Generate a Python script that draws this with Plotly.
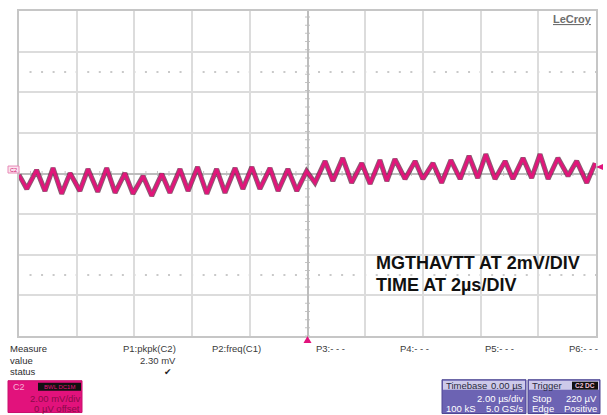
import plotly.graph_objects as go

# C2 waveform turning points: time in microseconds, amplitude in millivolts
time_us = [-10.0, -9.73, -9.39, -9.10, -8.82, -8.52, -8.23, -7.89, -7.61, -7.27,
           -6.96, -6.67, -6.33, -6.05, -5.70, -5.40, -5.05, -4.77, -4.42, -4.14,
           -3.81, -3.49, -3.15, -2.86, -2.51, -2.24, -1.93, -1.65, -1.30, -1.02,
           -0.68, -0.37, -0.03, 0.26, 0.61, 0.88, 1.22, 1.53, 1.88, 2.17,
           2.51, 2.75, 3.03, 3.38, 3.73, 4.00, 4.35, 4.65, 4.97, 5.29,
           5.60, 5.90, 6.18, 6.50, 6.85, 7.12, 7.47, 7.77, 8.06, 8.34,
           8.68, 9.03, 9.33, 9.68, 9.97]
volt_mv = [-0.07, -0.76, 0.17, -0.86, 0.27, -1.00, 0.02, -0.86, 0.22, -0.90,
           0.27, -0.95, 0.02, -1.00, -0.12, -1.10, -0.02, -0.95, 0.22, -0.86,
           0.32, -1.00, 0.22, -0.95, 0.27, -0.76, 0.32, -0.76, 0.27, -0.86,
           0.22, -0.86, 0.12, -0.46, 0.61, -0.37, 0.76, -0.46, 0.51, -0.51,
           0.66, -0.37, 0.71, -0.27, 0.61, -0.27, 0.51, -0.46, 0.66, -0.27,
           0.86, -0.22, 0.95, -0.27, 0.61, -0.27, 0.76, -0.22, 0.95, -0.27,
           0.76, -0.12, 0.61, -0.46, 0.51]

x_range = [-10, 10]      # 2 us/div, 10 divisions
y_range = [-8, 8]        # 2 mV/div, 8 divisions
x_div = 2
y_div = 2

meas_labels = ["Measure", "value", "status"]
param_names = ["P1:pkpk(C2)", "P2:freq(C1)", "P3:- - -", "P4:- - -", "P5:- - -", "P6:- - -"]
param_values = ["2.30 mV", "", "", "", "", ""]
param_status = ["✔", "", "", "", "", ""]

note_lines = ["MGTHAVTT AT 2mV/DIV", "TIME AT 2µs/DIV"]

# ---------------- layout helpers ----------------
W_IMG, H_IMG = 607, 415
L, R, T, B = 19, 596, 9, 336
PW, PH = R - L, B - T


def px(x):
    return (x - L) / PW


def py(y):
    return (B - y) / PH


FONT = "Arial, Liberation Sans, sans-serif"
TXT = "#3a3a3a"
GRID = "#dcdcdc"
PINK = "#e2127c"
PURPLE = "#6c63b3"
LAV = "#cdc9ea"

fig = go.Figure()

# waveform: dark noisy edge underneath, magenta core on top
fig.add_trace(go.Scatter(x=time_us, y=volt_mv, mode="lines",
                         line=dict(color="#5a1838", width=5), opacity=0.7,
                         hoverinfo="skip", showlegend=False))
fig.add_trace(go.Scatter(x=time_us, y=volt_mv, mode="lines",
                         line=dict(color="#e0167a", width=3),
                         hoverinfo="skip", showlegend=False))

shapes = []
# dotted rows at +/- 2.5 divisions
for yv in (2.5 * y_div, -2.5 * y_div):
    shapes.append(dict(type="line", xref="x", yref="y", x0=-10 + 0.4 - 0.035, x1=10, y0=yv, y1=yv,
                       line=dict(color="#c9c9c9", width=2, dash="2px,9.54px"), layer="below"))
# tick marks along centre cross
shapes.append(dict(type="line", xref="x", yref="y", x0=0, x1=0, y0=-8 - 0.025, y1=8,
                   line=dict(color="#c4c4c4", width=5, dash="1px,7.18px"), layer="below"))
shapes.append(dict(type="line", xref="x", yref="y", x0=-10 - 0.018, x1=10, y0=0, y1=0,
                   line=dict(color="#c4c4c4", width=5, dash="1px,10.54px"), layer="below"))

# trigger position marker (below the grid)
shapes.append(dict(type="path", xref="paper", yref="paper",
                   path="M {a},{b} L {c},{b} L {d},{e} Z".format(
                       a=px(303.5), b=py(343), c=px(311.5), d=px(307.5), e=py(336)),
                   fillcolor=PINK, line=dict(width=0)))
# C2 ground marker on the left
shapes.append(dict(type="rect", xref="paper", yref="paper",
                   x0=px(8), x1=px(19), y0=py(165), y1=py(172),
                   fillcolor="#fbe3ef", line=dict(color="#e889b6", width=1)))
# trace end arrow on the right
shapes.append(dict(type="path", xref="paper", yref="paper",
                   path="M {a},{b} L {c},{d} L {c},{e} Z".format(
                       a=px(596), b=py(166), c=px(603), d=py(163), e=py(169)),
                   fillcolor=PINK, line=dict(width=0)))

# C2 channel box
shapes.append(dict(type="rect", xref="paper", yref="paper", x0=px(8), x1=px(82), y0=py(381), y1=py(413),
                   fillcolor=PINK, line=dict(color="#c80f6c", width=1)))
shapes.append(dict(type="rect", xref="paper", yref="paper", x0=px(38), x1=px(81), y0=py(383), y1=py(391),
                   fillcolor="#111111", line=dict(width=0)))
# Timebase box
shapes.append(dict(type="rect", xref="paper", yref="paper", x0=px(442), x1=px(526), y0=py(380), y1=py(414),
                   fillcolor=PURPLE, line=dict(color="#4e4794", width=1)))
shapes.append(dict(type="rect", xref="paper", yref="paper", x0=px(443), x1=px(525), y0=py(381), y1=py(390),
                   fillcolor=LAV, line=dict(width=0)))
# Trigger box
shapes.append(dict(type="rect", xref="paper", yref="paper", x0=px(528), x1=px(600), y0=py(380), y1=py(414),
                   fillcolor=PURPLE, line=dict(color="#4e4794", width=1)))
shapes.append(dict(type="rect", xref="paper", yref="paper", x0=px(529), x1=px(599), y0=py(381), y1=py(390),
                   fillcolor=LAV, line=dict(width=0)))
shapes.append(dict(type="rect", xref="paper", yref="paper", x0=px(572), x1=px(598), y0=py(382), y1=py(390),
                   fillcolor="#111111", line=dict(width=0)))

ann = []


def text(x, y, s, size=9.5, color=TXT, anchor="left", bold=False, family=FONT):
    ann.append(dict(xref="paper", yref="paper", x=px(x), y=py(y), text=("<b>%s</b>" % s) if bold else s,
                    showarrow=False, xanchor=anchor, yanchor="middle",
                    font=dict(family=family, size=size, color=color), borderpad=0))


# LeCroy logo
text(593, 17, "<u>LeCroy</u>", size=11, color="#6e6e6e", anchor="right", bold=True)
# C2 marker label
text(13.5, 168.5, "C2", size=5.5, color="#d0106e", anchor="center")

# measurement table
for lab, yy in zip(meas_labels, (349, 361, 372)):
    text(9, yy, lab, size=9.5, color="#2e2e2e")
col_right = [177, 262, 346, 430, 515, 599]
for name, val, st, xr in zip(param_names, param_values, param_status, col_right):
    text(xr, 349, name, size=9.5, anchor="right")
    if val:
        text(xr, 361, val, size=9.5, anchor="right")
    if st:
        text(xr - 4, 372, st, size=9, anchor="right", color="#222222", family="DejaVu Sans")

# channel box text
text(12, 387, "C2", size=9, color="#f7b3d6")
text(59.5, 387, "BWL DC1M", size=6, color="#e2127c", anchor="center")
text(81, 399, "2.00 mV/div", size=9.5, color="#8a0a48", anchor="right")
text(81, 409, "0 µV offset", size=9.5, color="#8a0a48", anchor="right")

# timebase box text
text(445, 385.5, "Timebase", size=9.5, color="#2a2a40")
text(524, 385.5, "0.00 µs", size=9.5, color="#2a2a40", anchor="right")
text(524, 399, "2.00 µs/div", size=9.5, color="white", anchor="right")
text(445, 409, "100 kS", size=9.5, color="white")
text(524, 409, "5.0 GS/s", size=9.5, color="white", anchor="right")

# trigger box text
text(531, 385.5, "Trigger", size=9.5, color="#2a2a40")
text(585, 386, "C2 DC", size=6.5, color="#f0c0dc", anchor="center", bold=True)
text(531, 399, "Stop", size=9.5, color="white")
text(598, 399, "220 µV", size=9.5, color="white", anchor="right")
text(531, 409, "Edge", size=9.5, color="white")
text(598, 409, "Positive", size=9.5, color="white", anchor="right")

# note on the screen
text(375, 262.5, note_lines[0], size=18, color="#111111", bold=True)
text(375, 285, note_lines[1], size=18, color="#111111", bold=True)

axis_common = dict(showgrid=True, gridcolor=GRID, gridwidth=1.5, zeroline=True,
                   zerolinecolor="#bdbdbd", zerolinewidth=1.5, showticklabels=False, ticks="",
                   showline=True, linecolor="#c6c6c6", linewidth=2, mirror=True, fixedrange=True)

fig.update_layout(
    width=W_IMG, height=H_IMG,
    margin=dict(l=L, r=W_IMG - R, t=T, b=H_IMG - B),
    paper_bgcolor="white", plot_bgcolor="white",
    xaxis=dict(range=x_range, dtick=x_div, tick0=0, **axis_common),
    yaxis=dict(range=y_range, dtick=y_div, tick0=0, **axis_common),
    shapes=shapes, annotations=ann, showlegend=False,
)

fig.write_html("out.html", config={"displayModeBar": False},
               post_script="document.body.style.margin='0';document.body.style.overflow='hidden';")
